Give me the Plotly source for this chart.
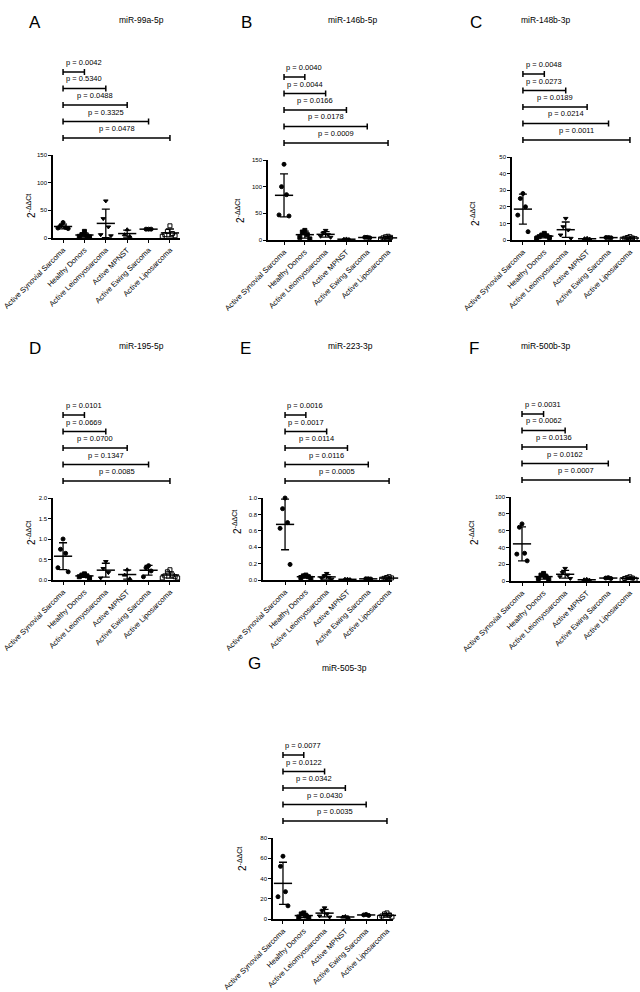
import numpy as np
import plotly.graph_objects as go

W, H = 640, 992
FONT = "Liberation Sans, Arial, sans-serif"

categories = ["Active Synovial Sarcoma", "Healthy Donors", "Active Leiomyosarcoma",
              "Active MPNST", "Active Ewing Sarcoma", "Active Liposarcoma"]
symbols = ["circle", "square", "triangle-down", "triangle-up", "circle", "square-open"]

# 2^-ddCt values per group
mir_99a_5p = [[28, 22, 19, 18, 17], [12, 6, 4, 3, 2], [67, 35, 20, 6, 4],
              [15, 6, 3], [16, 16, 16], [22, 12, 8, 6, 4, 3]]
mir_146b_5p = [[142, 100, 85, 47, 45], [18, 15, 10, 5, 2], [18, 13, 10, 7, 5],
               [2, 1.5, 1], [5, 5, 4], [7, 6, 5, 4, 3, 2, 1]]
mir_148b_3p = [[28, 25, 20, 15, 5], [4, 3, 2.5, 2, 1.5, 1], [13, 8, 6, 3, 1],
               [1, 0.8, 0.5], [1.5, 1.5, 1.3], [2, 1.5, 1.2, 1, 0.8, 0.5]]
mir_195_5p = [[1.0, 0.75, 0.65, 0.3, 0.2], [0.15, 0.12, 0.1, 0.08, 0.05], [0.45, 0.28, 0.18, 0.05],
              [0.25, 0.12, 0.03], [0.35, 0.3, 0.22, 0.08], [0.25, 0.2, 0.12, 0.1, 0.08, 0.05, 0.05]]
mir_223_3p = [[1.0, 0.87, 0.7, 0.63, 0.19], [0.06, 0.05, 0.04, 0.03, 0.02], [0.08, 0.05, 0.03, 0.02, 0.01],
              [0.01, 0.01, 0.005], [0.015, 0.015, 0.012], [0.04, 0.03, 0.025, 0.02, 0.015, 0.01]]
mir_500b_3p = [[68, 64, 33, 32, 24], [9, 7, 5, 3, 2], [15, 10, 7, 5, 3],
               [2, 1.5, 1], [4, 3.5, 3], [5, 4, 3.5, 3, 2, 1.5]]
mir_505_3p = [[62, 52, 27, 22, 13], [6, 5, 3, 2, 1], [11, 8, 5, 3, 2],
              [2.5, 2, 1.5], [4.5, 4, 3.5], [6, 5, 4, 3, 2, 1.5]]

# p values vs Active Synovial Sarcoma
p_99a = ["0.0042", "0.5340", "0.0488", "0.3325", "0.0478"]
p_146b = ["0.0040", "0.0044", "0.0166", "0.0178", "0.0009"]
p_148b = ["0.0048", "0.0273", "0.0189", "0.0214", "0.0011"]
p_195 = ["0.0101", "0.0669", "0.0700", "0.1347", "0.0085"]
p_223 = ["0.0016", "0.0017", "0.0114", "0.0116", "0.0005"]
p_500b = ["0.0031", "0.0062", "0.0136", "0.0162", "0.0007"]
p_505 = ["0.0077", "0.0122", "0.0342", "0.0430", "0.0035"]

# layout of each panel in pixels
panels = [
    dict(letter="A", title="miR-99a-5p", values=mir_99a_5p, pvals=p_99a,
         yticks=[0, 50, 100, 150], fmt="d", x0=53, x1=180, top=155, bot=238, xr=[-0.47, 5.47],
         lpos=(27, 11), tpos=(117, 13), ypos=(23, 192)),
    dict(letter="B", title="miR-146b-5p", values=mir_146b_5p, pvals=p_146b,
         yticks=[0, 50, 100, 150], fmt="d", x0=268, x1=392, top=160, bot=240, xr=[-0.77, 5.19],
         lpos=(246, 11), tpos=(352, 13), ypos=(240, 197)),
    dict(letter="C", title="miR-148b-3p", values=mir_148b_3p, pvals=p_148b,
         yticks=[0, 10, 20, 30, 40, 50], fmt="d", x0=512, x1=640, top=157, bot=240, xr=[-0.51, 5.47],
         lpos=(484, 11), tpos=(572, 13), ypos=(483, 200)),
    dict(letter="D", title="miR-195-5p", values=mir_195_5p, pvals=p_195,
         yticks=[0, 0.5, 1.0, 1.5, 2.0], fmt=".1f", x0=53, x1=180, top=498, bot=580, xr=[-0.47, 5.47],
         lpos=(27, 348), tpos=(117, 346), ypos=(23, 533)),
    dict(letter="E", title="miR-223-3p", values=mir_223_3p, pvals=p_223,
         yticks=[0, 0.2, 0.4, 0.6, 0.8, 1.0], fmt=".1f", x0=263, x1=392, top=498, bot=580, xr=[-1.06, 5.14],
         lpos=(245, 348), tpos=(350, 346), ypos=(237, 522)),
    dict(letter="F", title="miR-500b-3p", values=mir_500b_3p, pvals=p_500b,
         yticks=[0, 20, 40, 60, 80, 100], fmt="d", x0=511, x1=640, top=497, bot=581, xr=[-0.51, 5.47],
         lpos=(481, 348), tpos=(572, 346), ypos=(482, 533)),
    dict(letter="G", title="miR-505-3p", values=mir_505_3p, pvals=p_505,
         yticks=[0, 20, 40, 60, 80], fmt="d", x0=273, x1=393, top=838, bot=919, xr=[-0.48, 5.29],
         lpos=(254, 675), tpos=(344, 675), ypos=(242, 873)),
]


def px(x):
    return x / W


def py(y):
    return 1 - y / H


def jitter(n):
    return np.array([((i + 1) // 2) * 0.12 * (-1) ** i for i in range(n)])


fig = go.Figure()
shapes, annotations = [], []
layout = {}

for n, p in enumerate(panels, start=1):
    xa, ya = f"x{n}", f"y{n}"
    for i, vals in enumerate(p["values"]):
        vals = np.array(vals, dtype=float)
        fig.add_trace(go.Scatter(
            x=i + jitter(len(vals)), y=vals, mode="markers", xaxis=xa, yaxis=ya,
            marker=dict(symbol=symbols[i], size=4, color="black", line=dict(color="black", width=1)),
            cliponaxis=False, showlegend=False
        ))
        fig.add_trace(go.Scatter(
            x=[i], y=[vals.mean()], mode="markers", xaxis=xa, yaxis=ya,
            marker=dict(symbol="line-ew", size=13, line=dict(color="black", width=1.5)),
            error_y=dict(type="data", array=[vals.std(ddof=1)], color="black", thickness=1.3, width=4),
            cliponaxis=False, showlegend=False
        ))

    ymax = p["yticks"][-1]
    layout[f"xaxis{n}"] = dict(
        domain=[px(p["x0"]), px(p["x1"])], range=p["xr"], anchor=ya, automargin=False,
        tickvals=list(range(6)), ticktext=categories, tickangle=-45,
        tickfont=dict(size=7.5, color="black", family=FONT),
        showline=True, linecolor="black", linewidth=1.5, ticks="outside", ticklen=3,
        tickwidth=1, tickcolor="black", showgrid=False, zeroline=False
    )
    layout[f"yaxis{n}"] = dict(
        domain=[py(p["bot"]), py(p["top"])], range=[0, ymax], anchor=xa, automargin=False,
        tickvals=p["yticks"], tickformat=p["fmt"],
        tickfont=dict(size=6, color="black", family=FONT),
        showline=True, linecolor="black", linewidth=1.5, ticks="outside", ticklen=3,
        tickwidth=1, tickcolor="black", showgrid=False, zeroline=False
    )

    # significance brackets
    for j, pv in enumerate(p["pvals"], start=1):
        yb = p["top"] - 17 - (5 - j) * 16.5
        ym, ya_, yb_ = py(yb), py(yb - 3), py(yb + 3)
        shapes.append(dict(
            type="path", xref=xa, yref="paper",
            path=f"M 0,{ya_} L 0,{yb_} M 0,{ym} L {j},{ym} M {j},{ya_} L {j},{yb_}",
            line=dict(color="black", width=1.5)
        ))
        annotations.append(dict(
            x=max(j / 2, 0.97), xref=xa, y=py(yb - 9.5), yref="paper",
            text=f"p = {pv}", showarrow=False, xanchor="center", yanchor="middle",
            font=dict(size=7.5, color="black", family=FONT)
        ))

    annotations.append(dict(
        x=px(p["lpos"][0]), y=py(p["lpos"][1]), xref="paper", yref="paper",
        text=p["letter"], showarrow=False, font=dict(size=17, color="black", family=FONT)
    ))
    annotations.append(dict(
        x=px(p["tpos"][0]), y=py(p["tpos"][1]), xref="paper", yref="paper",
        text=p["title"], showarrow=False, font=dict(size=8.5, color="black", family=FONT)
    ))
    annotations.append(dict(
        x=px(p["ypos"][0]), y=py(p["ypos"][1]), xref="paper", yref="paper",
        text="2<sup>-ΔΔCt</sup>", textangle=-90, showarrow=False,
        font=dict(size=10, color="black", family=FONT)
    ))

fig.update_layout(
    template="none",
    width=W, height=H, margin=dict(l=0, r=0, t=0, b=0, autoexpand=False),
    paper_bgcolor="white", plot_bgcolor="white", showlegend=False,
    shapes=shapes, annotations=annotations, **layout
)

fig.write_html("out.html", config={"displayModeBar": False},
               post_script="document.body.style.margin='0px';")
